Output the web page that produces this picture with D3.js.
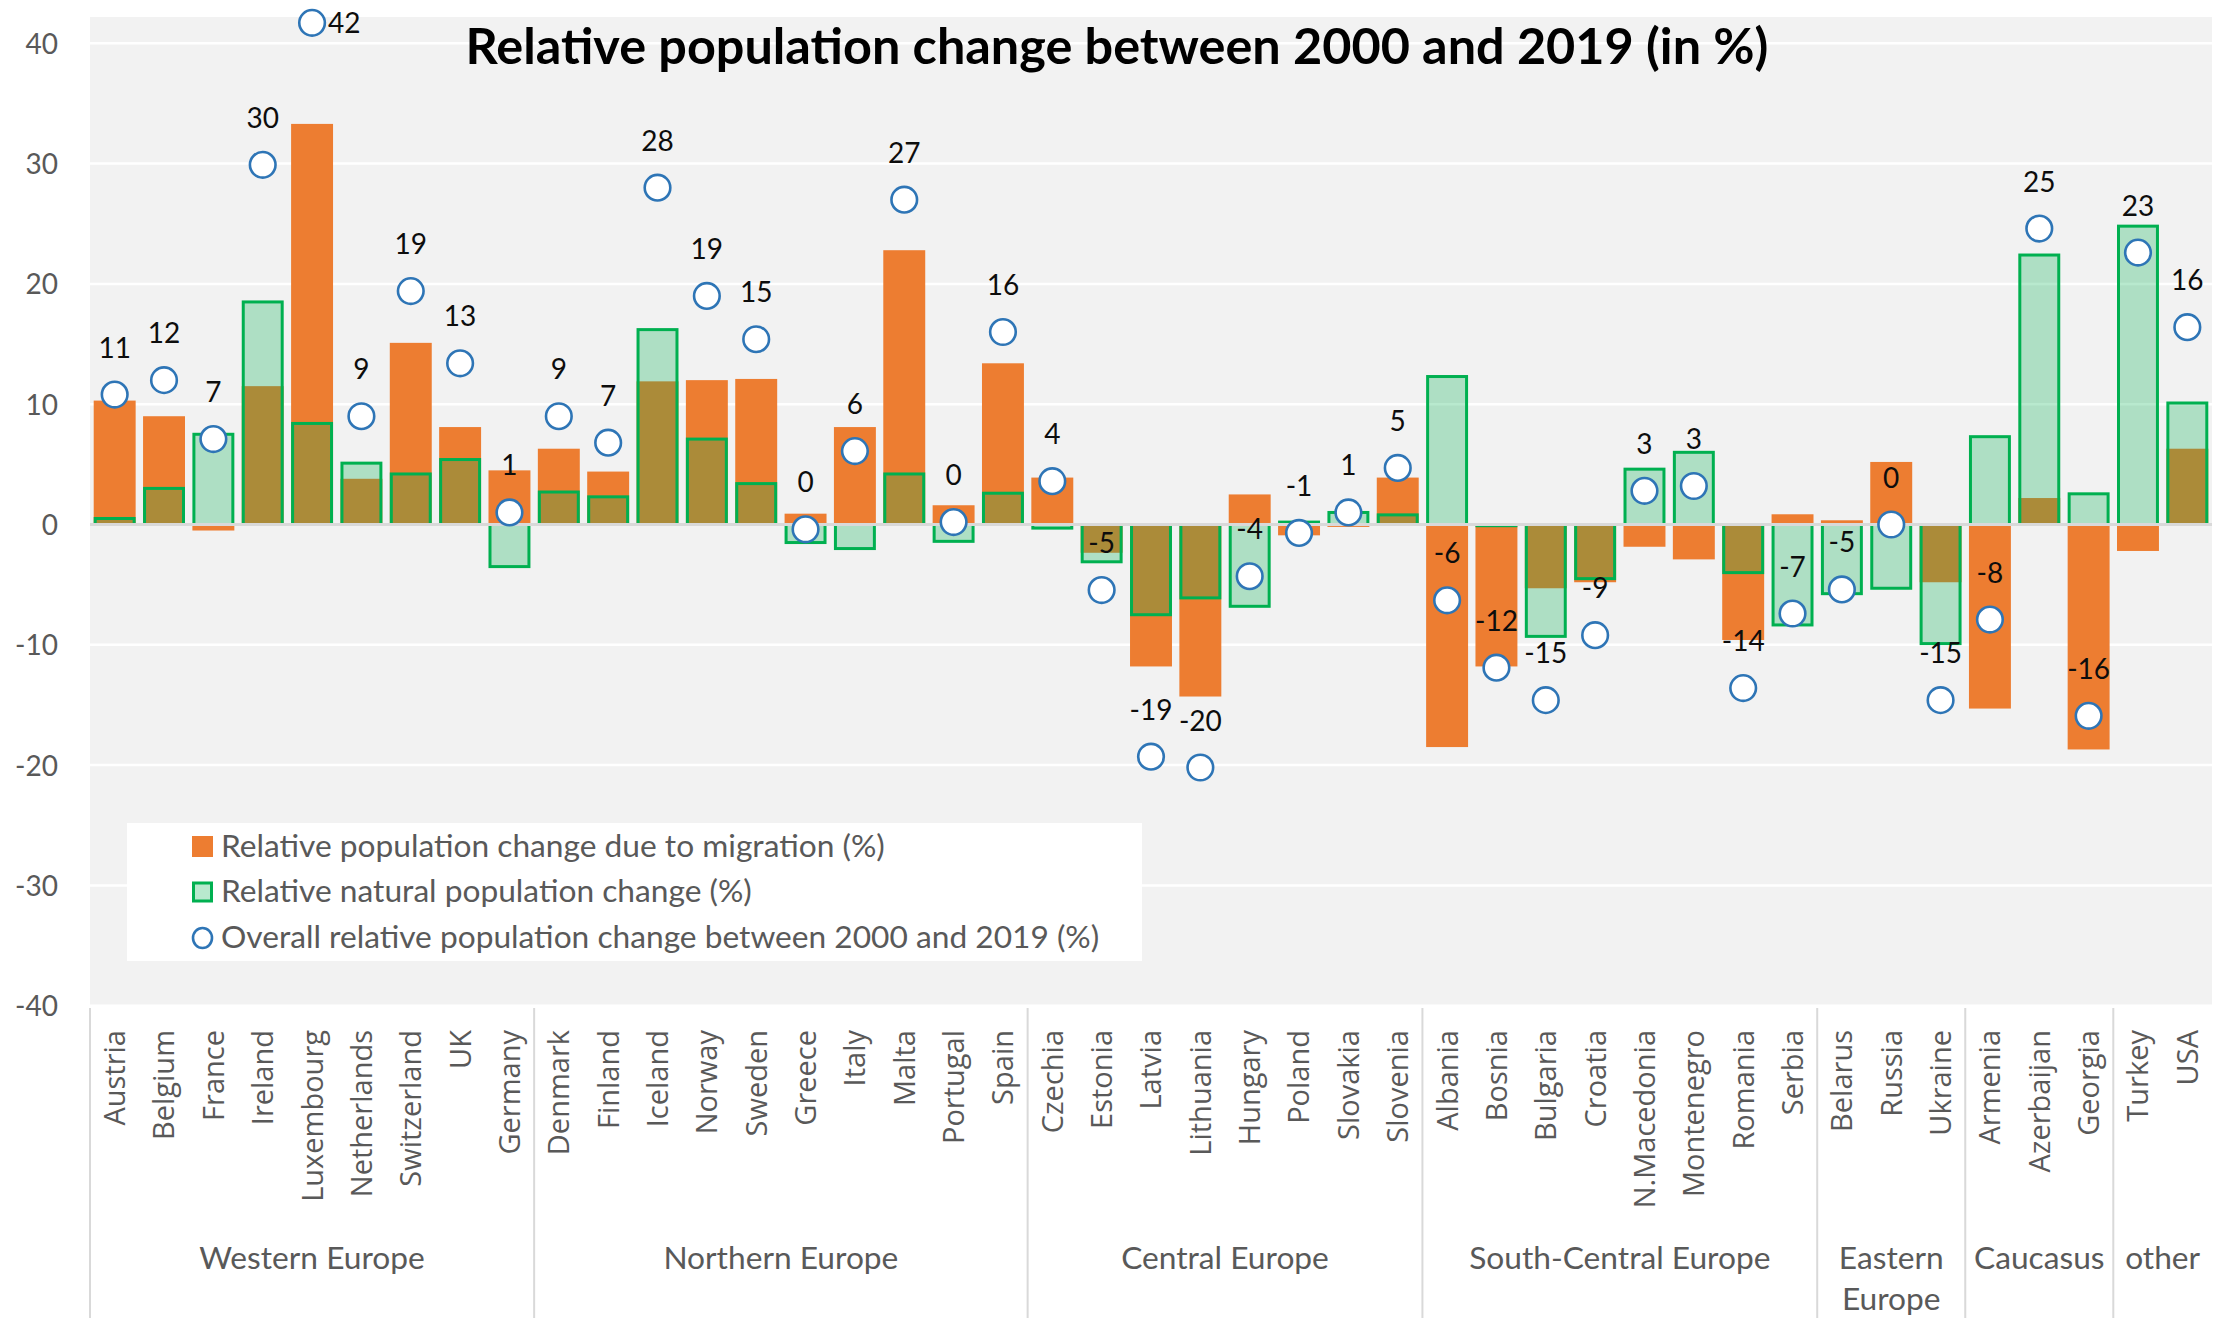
<!DOCTYPE html>
<html>
<head>
<meta charset="utf-8">
<script src="https://cdn.jsdelivr.net/npm/d3@7"></script>
<style>
  body { margin: 0; background: #fff; }
</style>
</head>
<body>
<div id="chart"></div>
<script>
// values
var countries = ["Austria","Belgium","France","Ireland","Luxembourg","Netherlands","Switzerland","UK","Germany",
  "Denmark","Finland","Iceland","Norway","Sweden","Greece","Italy","Malta","Portugal","Spain",
  "Czechia","Estonia","Latvia","Lithuania","Hungary","Poland","Slovakia","Slovenia",
  "Albania","Bosnia","Bulgaria","Croatia","N.Macedonia","Montenegro","Romania","Serbia",
  "Belarus","Russia","Ukraine","Armenia","Azerbaijan","Georgia","Turkey","USA"];

var groupNames = ["Western Europe","Northern Europe","Central Europe","South-Central Europe","Eastern Europe","Caucasus","other"];
var groupSizes = [9, 10, 8, 8, 3, 3, 2];

var migration = [10.3, 9.0, -0.5, 11.5, 33.3, 3.8, 15.1, 8.1, 4.5,
  6.3, 4.4, 11.9, 12.0, 12.1, 0.9, 8.1, 22.8, 1.6, 13.4,
  3.9, -2.35, -11.8, -14.3, 2.5, -0.9, -0.2, 3.9,
  -18.5, -11.8, -5.3, -4.8, -1.85, -2.9, -9.6, 0.85,
  0.35, 5.2, -4.8, -15.3, 2.2, -18.7, -2.2, 6.3];

var natural = [0.5, 3.0, 7.5, 18.5, 8.4, 5.1, 4.2, 5.4, -3.5,
  2.7, 2.3, 16.2, 7.1, 3.4, -1.5, -2.0, 4.2, -1.4, 2.6,
  -0.3, -3.1, -7.5, -6.1, -6.8, 0.2, 1.0, 0.8,
  12.3, -0.1, -9.3, -4.5, 4.6, 6.0, -4.0, -8.35,
  -5.75, -5.3, -9.9, 7.3, 22.4, 2.55, 24.8, 10.1];

var overall = [10.8, 12.0, 7.1, 29.9, 41.7, 9.0, 19.4, 13.4, 1.0,
  9.0, 6.8, 28.0, 19.0, 15.4, -0.4, 6.1, 27.0, 0.2, 16.0,
  3.6, -5.45, -19.3, -20.2, -4.3, -0.7, 1.0, 4.7,
  -6.3, -11.9, -14.6, -9.2, 2.8, 3.2, -13.6, -7.4,
  -5.4, 0.0, -14.6, -7.9, 24.6, -15.9, 22.6, 16.4];

var yTicks = [-40, -30, -20, -10, 0, 10, 20, 30, 40];

var title = "Relative population change between 2000 and 2019 (in %)";
var legendLabels = ["Relative population change due to migration (%)",
  "Relative natural population change (%)",
  "Overall relative population change between 2000 and 2019 (%)"];

var width = 2226, height = 1318;
var plotLeft = 90, plotRight = 2212, plotTop = 17, plotBottom = 1006;

var orange = "#ED7D31", green = "#00B050", blue = "#2E75B6", grey = "#595959";
var labelFont = "Lato, 'Open Sans', sans-serif";

var svg = d3.select("#chart").append("svg")
    .attr("width", width)
    .attr("height", height)
    .style("display", "block");

svg.append("defs").append("clipPath").attr("id", "crop")
  .append("rect").attr("x", 0).attr("y", 0).attr("width", plotRight).attr("height", height);

var root = svg.append("g").attr("clip-path", "url(#crop)");

root.append("rect").attr("width", width).attr("height", height).attr("fill", "#fff");

var x = d3.scaleBand()
    .domain(countries)
    .range([plotLeft, plotRight])
    .paddingInner(0.15)
    .paddingOuter(0.075);

var y = d3.scaleLinear()
    .domain([-40, 40])
    .range([1005.7, 43.3]);

// plot background
root.append("rect")
    .attr("x", plotLeft).attr("y", plotTop)
    .attr("width", plotRight - plotLeft).attr("height", y(-40) - plotTop)
    .attr("fill", "#F2F2F2");

// gridlines
root.append("g").selectAll("line")
  .data(yTicks.filter(d => d !== 0))
  .enter().append("line")
    .attr("x1", plotLeft).attr("x2", plotRight)
    .attr("y1", d => y(d)).attr("y2", d => y(d))
    .attr("stroke", "#fff").attr("stroke-width", 2.5);

// y axis labels
var yAxis = root.append("g")
    .attr("transform", "translate(" + plotLeft + ",0)")
    .call(d3.axisLeft(y).tickValues(yTicks).tickSize(0).tickPadding(32).tickFormat(d => String(d)));
yAxis.select(".domain").remove();
yAxis.selectAll("text")
    .attr("dy", "0.36em")
    .style("font-family", labelFont)
    .style("font-size", "28px")
    .attr("fill", grey);

var bw = x.bandwidth();

// migration bars
root.append("g").selectAll("rect")
  .data(migration)
  .enter().append("rect")
    .attr("x", (d, i) => x(countries[i]))
    .attr("y", d => Math.min(y(d), y(0)))
    .attr("width", bw)
    .attr("height", d => Math.abs(y(d) - y(0)))
    .attr("fill", orange);

// natural change bars, translucent fill with outline
root.append("g").selectAll("rect")
  .data(natural)
  .enter().append("rect")
    .attr("x", (d, i) => x(countries[i]) + 1.5)
    .attr("y", d => Math.min(y(d), y(0)))
    .attr("width", bw - 3)
    .attr("height", d => Math.abs(y(d) - y(0)))
    .attr("fill", green)
    .attr("fill-opacity", 0.28)
    .attr("stroke", green)
    .attr("stroke-width", 3);

// zero line
root.append("line")
    .attr("x1", plotLeft).attr("x2", plotRight)
    .attr("y1", y(0)).attr("y2", y(0))
    .attr("stroke", "#D9D9D9").attr("stroke-width", 3);

// overall change markers
var cx = (d, i) => x(countries[i]) + bw / 2;

root.append("g").selectAll("circle")
  .data(overall)
  .enter().append("circle")
    .attr("cx", cx)
    .attr("cy", d => y(d))
    .attr("r", 12.8)
    .attr("fill", "#fff")
    .attr("stroke", blue)
    .attr("stroke-width", 2.6);

// data labels above the markers, or to the right when there is no room above
root.append("g").selectAll("text")
  .data(overall)
  .enter().append("text")
    .each(function(d, i){
      var el = d3.select(this), cy = y(d);
      if(cy - 60 < plotTop){
        el.attr("x", cx(d, i) + 16).attr("y", cy + 10).attr("text-anchor", "start");
      } else {
        el.attr("x", cx(d, i)).attr("y", cy - 37).attr("text-anchor", "middle");
      }
    })
    .style("font-family", labelFont)
    .style("font-size", "28px")
    .attr("fill", "#0D0D0D")
    .text(d => String(Math.round(d)));

// category labels
var xAxis = root.append("g")
    .attr("transform", "translate(0," + plotBottom + ")")
    .call(d3.axisBottom(x).tickSize(0));
xAxis.select(".domain").remove();
xAxis.selectAll("text")
    .attr("transform", "rotate(-90)")
    .attr("x", -24)
    .attr("y", 0)
    .attr("dy", "0.36em")
    .attr("text-anchor", "end")
    .style("font-family", "'Open Sans', sans-serif")
    .style("font-size", "29px")
    .attr("fill", grey);

// legend
var legend = root.append("g");
legend.append("rect")
    .attr("x", 127).attr("y", 823)
    .attr("width", 1015).attr("height", 138)
    .attr("fill", "#fff");

var rowY = [846.5, 892, 938];

legend.append("rect")
    .attr("x", 192).attr("y", rowY[0] - 10.5)
    .attr("width", 21).attr("height", 21)
    .attr("fill", orange);
legend.append("rect")
    .attr("x", 193.5).attr("y", rowY[1] - 9)
    .attr("width", 18).attr("height", 18)
    .attr("fill", green).attr("fill-opacity", 0.28)
    .attr("stroke", green).attr("stroke-width", 3);
legend.append("ellipse")
    .attr("cx", 202.5).attr("cy", rowY[2])
    .attr("rx", 9.5).attr("ry", 10)
    .attr("fill", "#fff")
    .attr("stroke", blue).attr("stroke-width", 2.6);

var legendText = legend.selectAll("text")
  .data(legendLabels)
  .enter().append("text")
    .attr("x", 221)
    .attr("y", (d, i) => rowY[i] + 10)
    .style("font-family", labelFont)
    .style("font-size", "28px")
    .attr("fill", grey)
    .text(d => d);

// the reference font runs wider than Lato: size the text to the reference width
var textSize = 28 * 664 / legendText.node().getComputedTextLength();
legendText.style("font-size", textSize + "px");

// group separators and labels
var half = (x.step() - bw) / 2;
var starts = [], idx = 0;
groupSizes.forEach(n => { starts.push(idx); idx += n; });

var bounds = starts.map(s => x(countries[s]) - half).concat([plotRight]);

root.append("g").selectAll("line")
  .data(bounds.slice(0, -1))
  .enter().append("line")
    .attr("x1", d => d).attr("x2", d => d)
    .attr("y1", plotBottom + 2).attr("y2", height)
    .attr("stroke", "#D9D9D9").attr("stroke-width", 2);

var groupText = root.append("g").selectAll("text")
  .data(groupNames)
  .enter().append("text")
    .attr("x", (d, i) => (bounds[i] + bounds[i + 1]) / 2)
    .attr("y", 1269)
    .attr("text-anchor", "middle")
    .style("font-family", labelFont)
    .style("font-size", textSize + "px")
    .attr("fill", grey)
    .text(d => d);

// wrap group names that do not fit their span
groupText.each(function(d, i){
  var el = d3.select(this);
  var room = bounds[i + 1] - bounds[i] - 10;
  if(this.getComputedTextLength() > room && d.indexOf(" ") > 0){
    var words = d.split(" ");
    var cxg = el.attr("x");
    el.text(null);
    words.forEach((w, k) => {
      el.append("tspan").attr("x", cxg).attr("dy", k === 0 ? 0 : 41).text(w);
    });
  }
});

// title, sized to the reference width
var t = root.append("text")
    .attr("x", 1117)
    .attr("y", 64)
    .attr("text-anchor", "middle")
    .style("font-family", labelFont)
    .style("font-weight", "bold")
    .style("font-size", "48px")
    .attr("fill", "#000")
    .text(title);
var tw = t.node().getComputedTextLength();
t.style("font-size", (48 * 1303 / tw) + "px");
</script>
</body>
</html>
